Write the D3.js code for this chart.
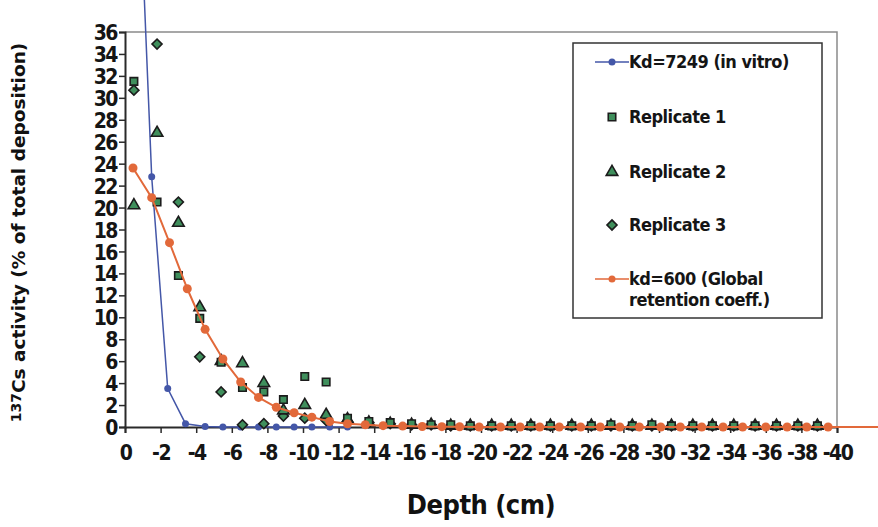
<!DOCTYPE html>
<html>
<head>
<meta charset="utf-8">
<script src="https://cdn.jsdelivr.net/npm/d3@7"></script>
<style>
  body { margin: 0; background: #fff; }
  svg { display: block; }
  .tick-label { font-family: "DejaVu Sans Condensed", "DejaVu Sans", sans-serif; font-stretch: condensed; font-weight: bold; fill: #151515; }
  .legend-text { font-family: "DejaVu Sans Condensed", "DejaVu Sans", sans-serif; font-stretch: condensed; font-weight: bold; font-size: 18px; letter-spacing: -0.5px; fill: #151515; }
</style>
</head>
<body>
<div id="chart"></div>
<script>
// chart.js

// Kd=7249 (in vitro) model
const depthKd7249 = [-0.5, -1.5, -2.4, -3.4, -4.5, -5.5, -6.5, -7.5, -8.5, -9.5, -10.5, -11.5, -12.5];
const kd7249 = [62, 22.8, 3.5, 0.3, 0.05, 0, 0, 0, 0, 0, 0, 0, 0];

// measured replicates (same depths for all three)
const depthRep = [-0.5, -1.8, -3.0, -4.2, -5.4, -6.6, -7.8, -8.9, -10.1, -11.3, -12.5, -13.7, -14.9,
    -16.1, -17.2, -18.3, -19.4, -20.6, -21.7, -22.8, -23.9, -25.1, -26.2, -27.3, -28.5, -29.6,
    -30.7, -31.9, -33.0, -34.2, -35.4, -36.6, -37.8, -38.9];
const rep1 = [31.5, 20.5, 13.8, 9.9, 5.9, 3.6, 3.2, 2.5, 4.6, 4.1, 0.8, 0.5, 0.4,
    0.3, 0.2, 0.2, 0.1, 0.1, 0.1, 0.1, 0.1, 0.1, 0.1, 0.2, 0.1, 0.2,
    0.1, 0.1, 0.1, 0.1, 0.1, 0.1, 0.1, 0.1];
const rep2 = [20.2, 26.8, 18.6, 10.9, 6.0, 5.8, 4.0, 1.5, 2.0, 1.1, 0.7, 0.4, 0.3,
    0.2, 0.2, 0.1, 0.1, 0.1, 0.1, 0.1, 0.1, 0.1, 0.1, 0.1, 0.1, 0.1,
    0.1, 0.1, 0.1, 0.1, 0.1, 0.1, 0.1, 0.1];
const rep3 = [30.7, 34.9, 20.5, 6.4, 3.2, 0.2, 0.3, 1.0, 0.8, 0.6, 0.5, 0.4, 0.3,
    0.2, 0.2, 0.1, 0.1, 0.1, 0.1, 0.1, 0.1, 0.1, 0.1, 0.1, 0.1, 0.1,
    0.1, 0.1, 0.1, 0.1, 0.1, 0.1, 0.1, 0.1];

// kd=600 (global retention coeff.) model
const depthKd600 = [-0.45, -1.5, -2.5, -3.5, -4.5, -5.5, -6.5, -7.5, -8.5, -9.5, -10.5, -11.5,
    -12.5, -13.5, -14.5, -15.6, -16.7, -17.8, -18.8, -19.9, -21.1, -22.2, -23.3, -24.4,
    -25.6, -26.7, -27.8, -28.9, -30.1, -31.2, -32.4, -33.6, -34.7, -36.0, -37.2, -38.3,
    -39.5, -40.7, -41.9, -43.1];
const kd600 = [23.6, 20.9, 16.8, 12.6, 8.9, 6.2, 4.1, 2.7, 1.8, 1.3, 0.9, 0.5,
    0.3, 0.2, 0.12, 0.08, 0.05, 0.03, 0.02, 0, 0, 0, 0, 0,
    0, 0, 0, 0, 0, 0, 0, 0, 0, 0, 0, 0,
    0, 0, 0, 0];

const xTicks = [0, -2, -4, -6, -8, -10, -12, -14, -16, -18, -20, -22, -24, -26, -28, -30, -32, -34, -36, -38, -40];
const yTicks = [0, 2, 4, 6, 8, 10, 12, 14, 16, 18, 20, 22, 24, 26, 28, 30, 32, 34, 36];

const width = 878;
const height = 527;
const margin = {top: 32, right: 41, bottom: 100, left: 125};

const blue = "#4457a8";
const orange = "#e2693a";
const green = "#3f8f5c";
const dark = "#1c1c1c";

const svg = d3.select("#chart")
    .append("svg")
    .attr("width", width)
    .attr("height", height);

const x = d3.scaleLinear()
    .domain([0, -40])
    .range([margin.left, width - margin.right]);

const y = d3.scaleLinear()
    .domain([0, 36])
    .range([height - margin.bottom, margin.top]);

// plot frame (top and right)
svg.append("path")
    .attr("d", `M${x(0)},${y(36)}H${x(-40)}V${y(0)}`)
    .attr("fill", "none")
    .attr("stroke", "#8a8a8a")
    .attr("stroke-width", 1.5);

// axes
const xAxis = svg.append("g")
    .attr("transform", `translate(0,${y(0)})`)
    .call(d3.axisBottom(x).tickValues(xTicks).tickSize(6).tickPadding(9));

const yAxis = svg.append("g")
    .attr("transform", `translate(${x(0)},0)`)
    .call(d3.axisLeft(y).tickValues(yTicks).tickSize(6).tickPadding(2));

[xAxis, yAxis].forEach(a => {
    a.select(".domain").attr("stroke", "#2a2a2a").attr("stroke-width", 2);
    a.selectAll(".tick line").attr("stroke", "#2a2a2a").attr("stroke-width", 1.5);
    a.selectAll(".tick text")
        .attr("class", "tick-label")
        .attr("font-size", null)
        .attr("font-family", null)
        .style("font-size", "21px")
        .style("letter-spacing", "-1.5px");
});
xAxis.selectAll(".tick text").attr("dy", "0.85em").text(d => d === 0 ? "0" : "-" + Math.abs(d));
yAxis.selectAll(".tick text").attr("dy", "0.36em");

// Kd=7249 line
const lineKd7249 = d3.line()
    .x((d, i) => x(depthKd7249[i]))
    .y(d => y(d));

svg.append("path")
    .datum(kd7249)
    .attr("fill", "none")
    .attr("stroke", blue)
    .attr("stroke-width", 1.5)
    .attr("d", lineKd7249);

svg.append("g")
    .selectAll("circle")
    .data(kd7249)
    .join("circle")
    .attr("cx", (d, i) => x(depthKd7249[i]))
    .attr("cy", d => y(d))
    .attr("r", 3.5)
    .attr("fill", blue);

// replicates
const squareSym = d3.symbol().type(d3.symbolSquare).size(56);
const triSym = d3.symbol().type(d3.symbolTriangle).size(58);
const diamondSym = d3.symbol().type(d3.symbolSquare).size(50);

function drawReplicate(values, sym, rotate) {
    svg.append("g")
        .selectAll("path")
        .data(values)
        .join("path")
        .attr("d", sym)
        .attr("transform", (d, i) => `translate(${x(depthRep[i])},${y(d)})` + (rotate ? " rotate(45)" : ""))
        .attr("fill", green)
        .attr("stroke", dark)
        .attr("stroke-width", 1.6);
}

drawReplicate(rep3, diamondSym, true);
drawReplicate(rep2, triSym, false);
drawReplicate(rep1, squareSym, false);

// kd=600 line
const lineKd600 = d3.line()
    .x((d, i) => x(depthKd600[i]))
    .y(d => y(d));

svg.append("path")
    .datum(kd600)
    .attr("fill", "none")
    .attr("stroke", orange)
    .attr("stroke-width", 2)
    .attr("d", lineKd600);

svg.append("g")
    .selectAll("circle")
    .data(kd600.filter((d, i) => depthKd600[i] >= -40))
    .join("circle")
    .attr("cx", (d, i) => x(depthKd600[i]))
    .attr("cy", d => y(d))
    .attr("r", 4.5)
    .attr("fill", orange);

// axis titles
svg.append("text")
    .attr("transform", `translate(25,${(y(0) + y(36)) / 2 + 3}) rotate(-90)`)
    .attr("text-anchor", "middle")
    .attr("font-family", "DejaVu Sans, sans-serif")
    .attr("font-weight", "bold")
    .attr("font-size", "18.5px")
    .attr("fill", "#111")
    .call(t => {
        t.append("tspan").attr("font-size", "14px").attr("dy", "-4").text("137");
        t.append("tspan").attr("dy", "4").text("Cs activity (% of total deposition)");
    });

svg.append("text")
    .attr("x", 481)
    .attr("y", 514)
    .attr("text-anchor", "middle")
    .attr("font-family", "DejaVu Sans Condensed, DejaVu Sans, sans-serif")
    .style("font-stretch", "condensed")
    .style("letter-spacing", "-0.5px")
    .attr("font-weight", "bold")
    .attr("font-size", "27px")
    .attr("fill", "#111")
    .text("Depth (cm)");

// Legend
const legend = svg.append("g");

legend.append("rect")
    .attr("x", 573)
    .attr("y", 43)
    .attr("width", 249)
    .attr("height", 275)
    .attr("fill", "#fff")
    .attr("stroke", "#333")
    .attr("stroke-width", 1.5);

const symX = 612;
const textX = 629;

function legendLine(yy, color) {
    legend.append("line")
        .attr("x1", symX - 17).attr("x2", symX + 17)
        .attr("y1", yy).attr("y2", yy)
        .attr("stroke", color)
        .attr("stroke-width", 1.5);
    legend.append("circle")
        .attr("cx", symX).attr("cy", yy).attr("r", 3.5)
        .attr("fill", color);
}

function legendText(yy, txt) {
    legend.append("text")
        .attr("class", "legend-text")
        .attr("x", textX)
        .attr("y", yy)
        .attr("dy", "0.35em")
        .text(txt);
}

legendLine(62, blue);
legendText(62, "Kd=7249 (in vitro)");

[[117, squareSym, false, "Replicate 1"], [172, triSym, false, "Replicate 2"], [225, diamondSym, true, "Replicate 3"]]
    .forEach(([yy, sym, rot, txt]) => {
        legend.append("path")
            .attr("d", sym)
            .attr("transform", `translate(${symX},${yy})` + (rot ? " rotate(45)" : ""))
            .attr("fill", green)
            .attr("stroke", dark)
            .attr("stroke-width", 1.6);
        legendText(yy, txt);
    });

legendLine(279, orange);
legendText(279, "kd=600 (Global");
legendText(300, "retention coeff.)");
</script>
</body>
</html>
